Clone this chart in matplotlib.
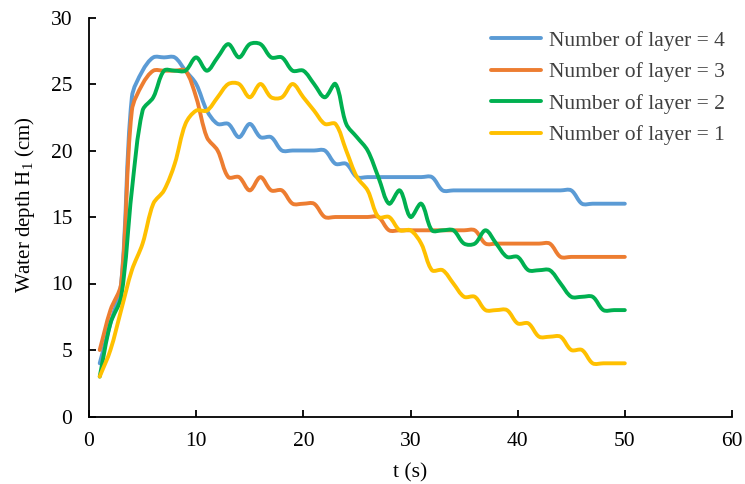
import numpy as np
import matplotlib
matplotlib.use('Agg')
import matplotlib.pyplot as plt
from matplotlib.path import Path
from matplotlib.patches import PathPatch
from matplotlib.lines import Line2D

plt.rcParams['font.family'] = ['Liberation Serif', 'DejaVu Serif']
plt.rcParams['mathtext.fontset'] = 'custom'
plt.rcParams['mathtext.rm'] = 'Liberation Serif'

t = list(range(1, 51))

layer4 = [4, 7, 10, 24, 26, 27, 27, 27, 26, 25,
          23, 22, 22, 21, 22, 21, 21, 20, 20, 20,
          20, 20, 19, 19, 18, 18, 18, 18, 18, 18,
          18, 18, 17, 17, 17, 17, 17, 17, 17, 17,
          17, 17, 17, 17, 17, 16, 16, 16, 16, 16]
layer3 = [5, 8, 10, 23, 25, 26, 26, 26, 26, 24,
          21, 20, 18, 18, 17, 18, 17, 17, 16, 16,
          16, 15, 15, 15, 15, 15, 15, 14, 14, 14,
          14, 14, 14, 14, 14, 14, 13, 13, 13, 13,
          13, 13, 13, 12, 12, 12, 12, 12, 12, 12]
layer2 = [3, 7, 9, 17, 23, 24, 26, 26, 26, 27,
          26, 27, 28, 27, 28, 28, 27, 27, 26, 26,
          25, 24, 25, 22, 21, 20, 18, 16, 17, 15,
          16, 14, 14, 14, 13, 13, 14, 13, 12, 12,
          11, 11, 11, 10, 9, 9, 9, 8, 8, 8]
layer1 = [3, 5, 8, 11, 13, 16, 17, 19, 22, 23,
          23, 24, 25, 25, 24, 25, 24, 24, 25, 24,
          23, 22, 22, 20, 18, 17, 15, 15, 14, 14,
          13, 11, 11, 10, 9, 9, 8, 8, 8, 7,
          7, 6, 6, 6, 5, 5, 4, 4, 4, 4]

series = [
    ('Number of layer = 4', layer4, '#5B9BD5'),
    ('Number of layer = 3', layer3, '#ED7D31'),
    ('Number of layer = 2', layer2, '#00B050'),
    ('Number of layer = 1', layer1, '#FFC000'),
]

# rough pixel size of one data unit, used only to weight the bezier arms
PX_X, PX_Y = 10.72, 13.3


def smooth_path(x, y):
    # Excel-like smoothed line: bezier arms scaled by neighbouring segment lengths
    pts = np.column_stack([x, y]).astype(float)
    n = len(pts)
    scr = pts * [PX_X, PX_Y]
    seg = np.hypot(*np.diff(scr, axis=0).T)
    out_arm = np.zeros_like(pts)
    in_arm = np.zeros_like(pts)
    out_arm[0] = (pts[1] - pts[0]) / 3
    in_arm[-1] = (pts[-1] - pts[-2]) / 3
    for i in range(1, n - 1):
        tan = pts[i + 1] - pts[i - 1]
        tot = seg[i - 1] + seg[i]
        out_arm[i] = tan * seg[i] / tot / 3
        in_arm[i] = tan * seg[i - 1] / tot / 3
    verts = [pts[0]]
    codes = [Path.MOVETO]
    for i in range(n - 1):
        verts += [pts[i] + out_arm[i], pts[i + 1] - in_arm[i + 1], pts[i + 1]]
        codes += [Path.CURVE4] * 3
    return Path(verts, codes)


fig = plt.figure(figsize=(7.45, 4.84), dpi=100)
ax = fig.add_axes([89 / 745, 1 - 416.5 / 484, (732 - 89) / 745, 399 / 484])

handles = []
for name, vals, color in series:
    patch = PathPatch(smooth_path(t, vals), facecolor='none', edgecolor=color,
                      lw=2.8, capstyle='round', joinstyle='round')
    ax.add_patch(patch)
    handles.append(Line2D([], [], color=color, lw=2.8, solid_capstyle='round',
                          label=name))

ax.set_xlim(0, 60)
ax.set_ylim(0, 30)
ax.set_xticks(range(0, 61, 10))
ax.set_yticks(range(0, 31, 5))
ax.spines['top'].set_visible(False)
ax.spines['right'].set_visible(False)
for s in ['left', 'bottom']:
    ax.spines[s].set_linewidth(1.3)
ax.tick_params(direction='in', length=5, width=1.3, labelsize=15.5)
ax.tick_params(axis='y', pad=12)
ax.tick_params(axis='x', pad=11)

ax.set_xlabel('t (s)', fontsize=15.5, labelpad=9)
ax.set_ylabel(r'Water depth H$_\mathregular{1}$ (cm)', fontsize=15)
ax.yaxis.set_label_coords(-0.081, 0.53)

leg = ax.legend(handles=handles, loc='upper left', frameon=False,
                bbox_to_anchor=(480 / 745, 1 - 20 / 484),
                bbox_transform=fig.transFigure, borderpad=0,
                handlelength=2.35, handletextpad=0.35, labelspacing=0.53,
                fontsize=15.5)
for text in leg.get_texts():
    text.set_color('#404040')

plt.savefig('out.png', dpi=100)
